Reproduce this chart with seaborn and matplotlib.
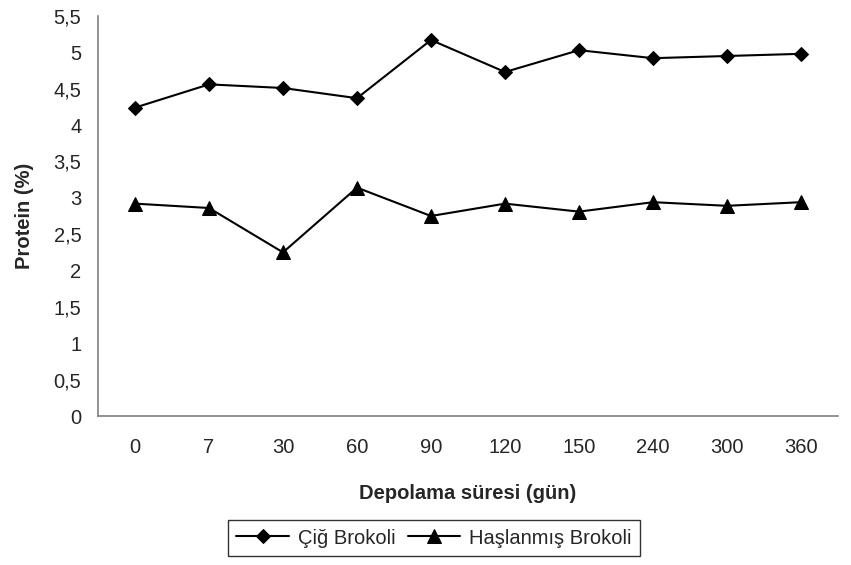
import matplotlib
matplotlib.use("Agg")
import matplotlib.pyplot as plt
import seaborn as sns
import pandas as pd
import numpy as np

days = ["0", "7", "30", "60", "90", "120", "150", "240", "300", "360"]
cig = [4.24, 4.56, 4.51, 4.37, 5.17, 4.73, 5.03, 4.92, 4.95, 4.98]
haslanmis = [2.92, 2.86, 2.25, 3.14, 2.75, 2.92, 2.81, 2.94, 2.89, 2.94]
y_ticks = [0, 0.5, 1, 1.5, 2, 2.5, 3, 3.5, 4, 4.5, 5, 5.5]

sns.set_style("white")
plt.rcParams["font.family"] = ["Liberation Sans", "DejaVu Sans"]

FS = 14.5

fig = plt.figure(figsize=(8.51, 5.65), dpi=100)
ax = fig.add_axes([98/851, 1-416/565, (838-98)/851, 400/565])

pos = np.arange(len(days))
df = pd.DataFrame({"pos": np.concatenate([pos, pos]),
                   "val": cig + haslanmis,
                   "series": ["Çiğ Brokoli"]*len(days) + ["Haşlanmış Brokoli"]*len(days)})

sns.lineplot(data=df[df.series == "Çiğ Brokoli"], x="pos", y="val", ax=ax,
             color="black", marker="D", markersize=7, linewidth=1.5,
             markeredgecolor="black", label="Çiğ Brokoli")
sns.lineplot(data=df[df.series == "Haşlanmış Brokoli"], x="pos", y="val", ax=ax,
             color="black", marker="^", markersize=10, linewidth=1.5,
             markeredgecolor="black", label="Haşlanmış Brokoli")

ax.set_xlim(-0.5, len(days) - 0.5)
ax.set_ylim(0, 5.5)
ax.set_yticks(y_ticks)
ax.set_yticklabels([("%g" % t).replace(".", ",") for t in y_ticks], fontsize=FS)

ax.set_xticks(np.arange(-0.5, len(days), 1.0))
ax.set_xticklabels([])
ax.set_xticks(pos, minor=True)
ax.set_xticklabels(days, minor=True, fontsize=FS)
ax.tick_params(axis="x", which="major", length=6, width=1, color="#808080", direction="out")
ax.tick_params(axis="x", which="minor", length=0, pad=16)
ax.tick_params(axis="y", length=6, width=1, color="#808080", direction="out", pad=6)

for s in ["top", "right"]:
    ax.spines[s].set_visible(False)
for s in ["left", "bottom"]:
    ax.spines[s].set_color("#808080")
    ax.spines[s].set_linewidth(1.2)

ax.set_xlabel("Depolama süresi (gün)", fontsize=FS, fontweight="bold", labelpad=19)
ax.set_ylabel("Protein (%)", fontsize=FS, fontweight="bold", labelpad=14)

ax.get_legend().remove()
handles, labels = ax.get_legend_handles_labels()
leg = fig.legend(handles, labels, loc="center", bbox_to_anchor=(434/851, 1-538/565),
                 ncol=2, fontsize=FS, frameon=True, fancybox=False, edgecolor="black",
                 handlelength=2.6, columnspacing=0.6, handletextpad=0.45, borderpad=0.4,
                 borderaxespad=0)
leg.get_frame().set_linewidth(1.0)

fig.savefig("out.png", dpi=100)
